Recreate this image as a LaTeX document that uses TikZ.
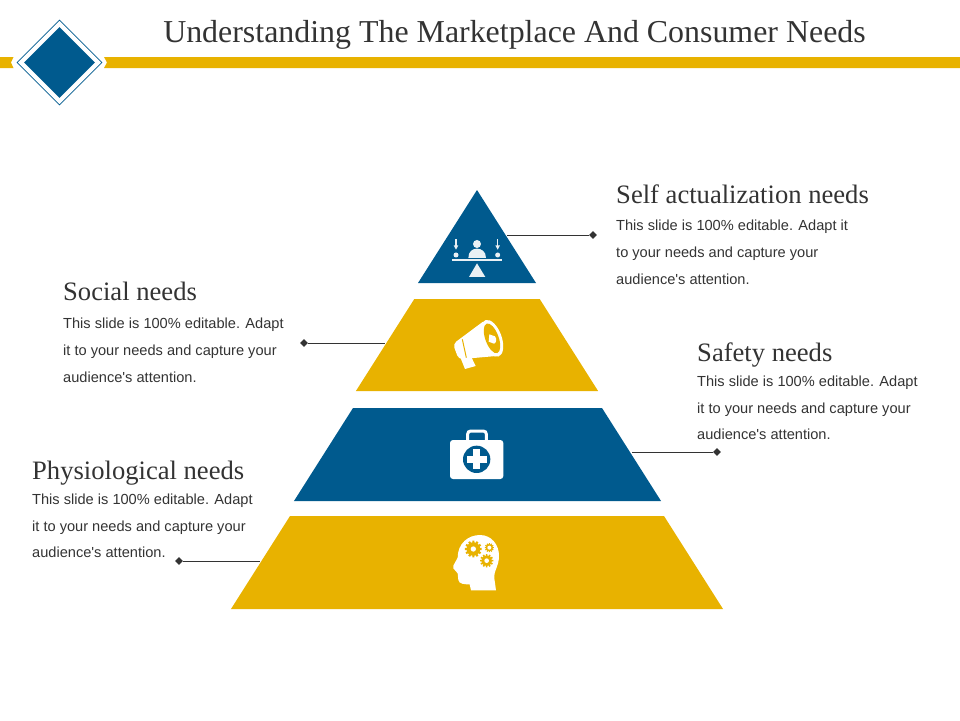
\documentclass[tikz,border=0pt]{standalone}
\usepackage{fontspec}
\setmainfont{Liberation Serif}
\newfontfamily\bodyfont{Liberation Sans}
\usetikzlibrary{positioning,shapes.geometric}

\definecolor{colB}{HTML}{005A8E}
\definecolor{colY}{HTML}{E8B200}
\definecolor{colT}{HTML}{333333}
\definecolor{colL}{HTML}{EAF0F4}

\tikzset{
  band/.style={trapezium,trapezium left angle=57.6,
    trapezium right angle=57.6,inner sep=0pt,outer sep=0pt},
  headtxt/.style={font=\fontsize{26.6}{28}\selectfont,text=colT,inner sep=0pt,anchor=base west},
  bodytxt/.style={font=\bodyfont\fontsize{14.6}{26.8}\selectfont,text=colT,align=left,
    inner sep=0pt,anchor=north west},
  leaddot/.style={diamond,fill=colT,minimum size=8pt,inner sep=0pt},
  leadline/.style={draw=colT,line width=0.9pt}
}

\newcommand{\cogwheel}[3]{% centre, radius, hole radius
  \foreach \a in {0,30,...,330}
    \fill[colY] (#1) ++(\a:#2*0.7) -- ++(\a+90:#2*0.13) -- ++(\a:#2*0.35)
      -- ++(\a-90:#2*0.26) -- ++(\a+180:#2*0.35) -- cycle;
  \fill[colY] (#1) circle (#2*0.85);
  \fill[white] (#1) circle (#3);
}

\begin{document}
\begin{tikzpicture}[x=1pt,y=-1pt]
\useasboundingbox (0,0) rectangle (960,720);

% top bar
\fill[colY] (0,57) -- (13.5,57) -- (11,62.5) -- (13.5,68) -- (0,68) -- cycle;
\fill[colY] (104,57) -- (960,57) -- (960,68) -- (104,68) -- (107,62.5) -- cycle;
\node[diamond,draw=colB,line width=0.7pt,fill=white,minimum size=85pt,inner sep=0pt] (logoA) at (59.5,62.5) {};
\node[diamond,fill=colB,minimum size=71pt,inner sep=0pt] (logoB) at (59.5,62.5) {};
\node[font=\fontsize{31.9}{34}\selectfont,text=colT,inner sep=0pt] (title) at (514.5,35)
  {Understanding The Marketplace And Consumer Needs};

% pyramid
\node[isosceles triangle,isosceles triangle stretches=true,shape border rotate=90,fill=colB,
      minimum width=118pt,minimum height=93pt,inner sep=0pt,outer sep=0pt,anchor=lower side]
      (tierA) at (477,283) {\phantom{x}};
\node[band,fill=colY] (tierB) at (477,345) {\phantom{\rule{125.4pt}{92pt}}};
\node[band,fill=colB] (tierC) at (477.5,454.5) {\phantom{\rule{249pt}{93pt}}};
\node[band,fill=colY] (tierD) at (477,562.5) {\phantom{\rule{374pt}{93pt}}};

% texts
\node[headtxt] (headA) at (616,203) {Self actualization needs};
\node[bodytxt,below=16.5pt of headA.south west,anchor=north west] (bodyA)
  {This slide is 100\% editable. Adapt it\\to your needs and capture your\\audience's attention.};
\node[headtxt] (headB) at (63,300) {Social needs};
\node[bodytxt,below=17.5pt of headB.south west,anchor=north west] (bodyB)
  {This slide is 100\% editable. Adapt\\it to your needs and capture your\\audience's attention.};
\node[headtxt] (headC) at (697,361) {Safety needs};
\node[bodytxt,below=8.5pt of headC.south west,anchor=north west] (bodyC)
  {This slide is 100\% editable. Adapt\\it to your needs and capture your\\audience's attention.};
\node[headtxt] (headD) at (32,479) {Physiological needs};
\node[bodytxt,below=8.5pt of headD.south west,anchor=north west] (bodyD)
  {This slide is 100\% editable. Adapt\\it to your needs and capture your\\audience's attention.};

% leaders
\node[leaddot] (dotA) at (593,235) {};
\node[leaddot] (dotB) at (304,343) {};
\node[leaddot] (dotC) at (717,452) {};
\node[leaddot] (dotD) at (179,561) {};
\draw[leadline] (dotA) -- (dotA -| tierA.right side);
\draw[leadline] (dotB) -- (dotB -| tierB.west);
\draw[leadline] (dotC) -- (dotC -| tierC.east);
\draw[leadline] (dotD) -- (dotD -| tierD.west);

% balance icon
\begin{scope}[shift={(410,180)},x=0.3333pt,y=-0.3333pt]
  \fill[colL] (201,192) circle (12);
  \fill[colL] (175,234) .. controls (175,214) and (188,206) .. (201,206)
    .. controls (214,206) and (228,214) .. (228,234) -- cycle;
  \fill[colL] (125,237) rectangle (275,243);
  \fill[colL] (201,250) -- (226,291) -- (177,291) -- cycle;
  \fill[colL] (138,225) circle (7.5);
  \fill[colL] (263,225) circle (7.5);
  \foreach \x in {138,263} {
    \fill[colL] (\x-2,178) rectangle (\x+2,200);
    \fill[colL] (\x-7,196) -- (\x+7,196) -- (\x,209) -- cycle;
  }
\end{scope}

% megaphone icon
\begin{scope}[shift={(420,305)},x=0.3333pt,y=-0.3333pt]
  \fill[white] (120,155) -- (135,192) -- (167,183) -- (150,148) -- cycle;
  \fill[white,rounded corners=4pt] (99,117) -- (197,44) -- (240,152) -- (116,163) -- cycle;
  \draw[colY,line width=1pt] (127,103) -- (139,158);
  \fill[white,rotate around={20:(216,100)}] (216,100) ellipse (29 and 58);
  \fill[colY,rotate around={20:(216,100)}] (216,100) ellipse (20 and 47);
  \fill[white] (208,88) -- (225,94) .. controls (232,103) and (228,115) .. (222,116) -- (206,110) -- cycle;
\end{scope}

% medical case icon
\begin{scope}[shift={(430,420)},x=0.3333pt,y=-0.3333pt]
  \draw[white,line width=3pt,rounded corners=3pt] (113,62) -- (113,33) -- (169,33) -- (169,62);
  \fill[white,rounded corners=3pt] (60,60) rectangle (220,177);
  \fill[colB] (140,118) circle (41);
  \fill[white] (110,108) rectangle (170,130);
  \fill[white] (129,88) rectangle (151,148);
\end{scope}

% head icon
\begin{scope}[shift={(435,525)},x=0.3333pt,y=-0.3333pt]
  \fill[white] (108,196) -- (104,178) .. controls (90,178) and (72,178) .. (70,165)
    -- (68,145) -- (55,130) -- (55,122) -- (68,98)
    .. controls (68,55) and (100,30) .. (135,30)
    .. controls (170,30) and (192,60) .. (192,92)
    .. controls (192,125) and (176,135) .. (178,160) -- (183,196) -- cycle;
  \cogwheel{115,72}{24}{8}
  \cogwheel{163,68}{13}{6}
  \cogwheel{155,107}{19}{7}
\end{scope}

\end{tikzpicture}
\end{document}
